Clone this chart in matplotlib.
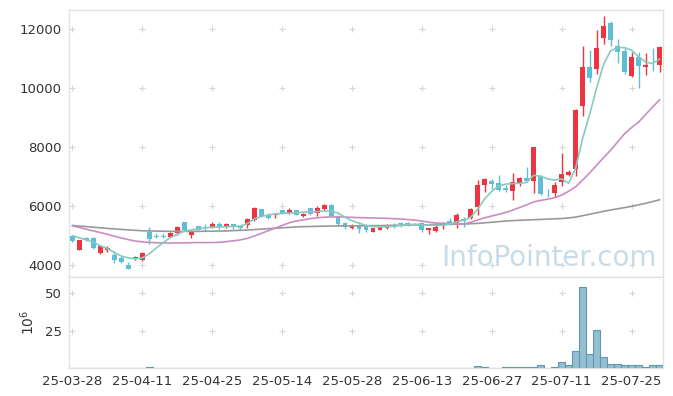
import numpy as np
import matplotlib.pyplot as plt

# x tick labels, one every 10 trading days
tick_labels = ['25-03-28', '25-04-11', '25-04-25', '25-05-14', '25-05-28',
               '25-06-13', '25-06-27', '25-07-11', '25-07-25']

# daily prices (85 trading days)
opens = [4990, 4520, 4900, 4930, 4420, 4510, 4350, 4240, 4015, 4200,
         4180, 5135, 4990, 4990, 4955, 5080, 5460, 5020, 5310, 5285,
         5280, 5400, 5280, 5400, 5330, 5360, 5525, 5885, 5695, 5685,
         5850, 5760, 5860, 5660, 5920, 5775, 5885, 6050, 5660, 5440,
         5270, 5350, 5330, 5125, 5180, 5250, 5360, 5395, 5420, 5370,
         5440, 5190, 5155, 5330, 5495, 5440, 5550, 5585, 5975, 6700,
         6860, 6780, 6610, 6500, 6780, 6950, 6835, 7010, 6450, 6445,
         6800, 7040, 7250, 9390, 10720, 10645, 11685, 12190, 11430, 11240,
         10420, 11060, 10700, 10830, 10790]
closes = [4800, 4840, 4840, 4570, 4650, 4560, 4180, 4105, 3880, 4280,
          4400, 4875, 4965, 4965, 5100, 5300, 5170, 5135, 5180, 5275,
          5400, 5300, 5400, 5275, 5250, 5550, 5920, 5650, 5605, 5740,
          5740, 5860, 5700, 5740, 5720, 5940, 6030, 5660, 5405, 5290,
          5360, 5235, 5180, 5240, 5290, 5330, 5345, 5385, 5400, 5390,
          5180, 5250, 5300, 5440, 5440, 5695, 5495, 5910, 6700, 6925,
          6760, 6555, 6555, 6815, 6950, 6840, 8010, 6390, 6430, 6700,
          7095, 7150, 9270, 10720, 10330, 11370, 12100, 11620, 11205, 10530,
          11060, 10760, 10790, 10800, 11395]
highs = [5010, 4860, 4950, 4960, 4670, 4650, 4460, 4320, 4110, 4320,
         4450, 5290, 5100, 5100, 5110, 5320, 5470, 5140, 5320, 5400,
         5470, 5470, 5420, 5400, 5340, 5605, 5950, 5890, 5775, 5775,
         5860, 5930, 5870, 5775, 5930, 5995, 6055, 6060, 5695, 5450,
         5400, 5380, 5380, 5260, 5310, 5380, 5440, 5470, 5470, 5440,
         5445, 5260, 5360, 5460, 5585, 5750, 5640, 5930, 6870, 6950,
         6925, 7060, 6725, 7115, 6985, 7330, 8010, 7040, 6560, 6815,
         7800, 7230, 9290, 11430, 11285, 11955, 12435, 12270, 11650, 11370,
         11205, 11230, 11180, 11370, 11430]
lows = [4790, 4500, 4820, 4540, 4370, 4430, 4060, 4060, 3860, 4170,
        4150, 4710, 4910, 4910, 4950, 5020, 5150, 4900, 5170, 5160,
        5250, 5230, 5270, 5210, 5180, 5250, 5495, 5640, 5550, 5605,
        5730, 5720, 5690, 5630, 5710, 5660, 5860, 5650, 5325, 5210,
        5210, 5080, 5110, 5110, 5170, 5210, 5250, 5290, 5330, 5350,
        5135, 5045, 5135, 5210, 5350, 5270, 5300, 5560, 5685, 6480,
        6590, 6500, 6480, 6200, 6670, 6820, 6445, 6370, 6300, 6310,
        6670, 7000, 7005, 9040, 10200, 10480, 11485, 11430, 10850, 10480,
        10365, 10000, 10450, 10590, 10530]

# moving average lines
ma5 = [4990, 4920, 4850, 4770, 4650, 4560, 4420, 4300, 4240, 4210,
       4240, 4380, 4580, 4760, 4930, 5040, 5150, 5190, 5230, 5260,
       5280, 5290, 5300, 5310, 5320, 5400, 5560, 5650, 5690, 5730,
       5750, 5760, 5775, 5790, 5800, 5810, 5830, 5830, 5760, 5620,
       5500, 5420, 5340, 5300, 5290, 5300, 5310, 5340, 5370, 5380,
       5360, 5350, 5340, 5350, 5390, 5460, 5520, 5620, 5900, 6250,
       6500, 6680, 6740, 6760, 6770, 6800, 7040, 7010, 6920, 6880,
       6920, 6770, 7280, 8300, 9100, 10000, 10800, 11260, 11370, 11370,
       11280, 11060, 10880, 10830, 10980]
ma20 = [5325, 5270, 5210, 5155, 5100, 5040, 4975, 4915, 4860, 4810,
        4785, 4765, 4755, 4750, 4745, 4745, 4750, 4755, 4760, 4760,
        4760, 4770, 4790, 4820, 4850, 4900, 4980, 5070, 5160, 5250,
        5340, 5430, 5490, 5530, 5570, 5600, 5620, 5630, 5630, 5625,
        5615, 5605, 5600, 5595, 5590, 5580, 5570, 5560, 5540, 5520,
        5490, 5450, 5420, 5410, 5410, 5400, 5390, 5450, 5530, 5600,
        5660, 5720, 5780, 5860, 5950, 6040, 6140, 6190, 6230, 6280,
        6370, 6500, 6650, 6880, 7120, 7380, 7640, 7890, 8170, 8450,
        8660, 8840, 9100, 9350, 9600]
ma60 = [5340, 5320, 5300, 5280, 5260, 5240, 5225, 5205, 5190, 5175,
        5160, 5155, 5150, 5145, 5140, 5140, 5140, 5140, 5140, 5145,
        5145, 5150, 5155, 5165, 5175, 5185, 5200, 5215, 5230, 5245,
        5260, 5275, 5290, 5300, 5305, 5310, 5315, 5320, 5325, 5325,
        5325, 5330, 5330, 5335, 5335, 5340, 5345, 5350, 5355, 5360,
        5360, 5365, 5370, 5375, 5380, 5385, 5390, 5400, 5410, 5430,
        5450, 5470, 5490, 5505, 5515, 5525, 5535, 5545, 5555, 5565,
        5575, 5595, 5625, 5670, 5720, 5770, 5820, 5865, 5905, 5945,
        5990, 6040, 6090, 6150, 6210]

# volume in millions
volume = [0.1] * 58 + [1.45, 1.0, 0.1, 0.1, 0.8, 0.8, 0.8, 0.8, 0.8, 1.7,
                       0.1, 0.8, 3.7, 1.7, 11.1, 54.6, 9.7, 25.6, 7.7, 3.0,
                       3.0, 2.1, 1.7, 1.7, 1.0, 1.7, 1.7]
volume[11] = 0.8

RED = '#ec3540'
BLUE = '#60bdd6'
GRID = '#d6d6d6'
SPINE = '#e2e2e2'
TXT = '#333333'

o = np.array(opens); c = np.array(closes)
h = np.array(highs); l = np.array(lows)
x = np.arange(len(o))
cols = np.where(c > o, RED, BLUE)

fig = plt.figure(figsize=(6.73, 3.96), dpi=100)
ax = fig.add_axes([69/673, 1 - 277/396, 594/673, 267/396])
axv = fig.add_axes([69/673, 1 - 368/396, 594/673, 91/396], sharex=ax)

# candles
ax.vlines(x, l, h, colors=cols, linewidth=1.0, zorder=2)
body = np.maximum(np.abs(c - o), 25)
ax.bar(x, body, bottom=np.minimum(o, c), width=0.7, color=cols,
       linewidth=0, zorder=3)

# moving averages
ax.plot(x, ma60, color='#999999', lw=1.2, zorder=4)
ax.plot(x, ma20, color='#cc8cc2', lw=1.2, zorder=4)
ax.plot(x, ma5, color='#86cbbf', lw=1.2, zorder=4)

ax.set_ylim(3593, 12644)
ax.set_xlim(-0.5, 84.5)
yt = [4000, 6000, 8000, 10000, 12000]
ax.set_yticks(yt)
ax.set_yticklabels([str(v) for v in yt])
xt = np.arange(0, 85, 10)
gx, gy = np.meshgrid(xt, yt)
ax.scatter(gx.ravel(), gy.ravel(), marker='+', s=22, color=GRID, lw=0.8, zorder=1)

ax.text(0.99, 0.02, 'InfoPointer.com', transform=ax.transAxes, ha='right',
        va='bottom', fontsize=20, color='#c9dbe6', zorder=0)

# volume
axv.bar(x, volume, width=1.0, color='#93bfd1', edgecolor='#5f98b3',
        linewidth=0.8, zorder=3)
axv.set_ylim(0, 61)
axv.set_yticks([25, 50])
axv.set_yticklabels(['25', '50'])
vx, vy = np.meshgrid(xt, [25, 50])
axv.scatter(vx.ravel(), vy.ravel(), marker='+', s=22, color=GRID, lw=0.8, zorder=1)
axv.set_ylabel('10$^6$', color=TXT, fontsize=10, labelpad=6)
axv.set_xticks(xt)
axv.set_xticklabels(tick_labels)

for a in (ax, axv):
    a.tick_params(length=0, labelsize=9.5, colors=TXT, pad=5)
    for s in a.spines.values():
        s.set_color(SPINE)
        s.set_linewidth(1.0)
ax.tick_params(labelbottom=False)

fig.savefig('out.png', dpi=100)
